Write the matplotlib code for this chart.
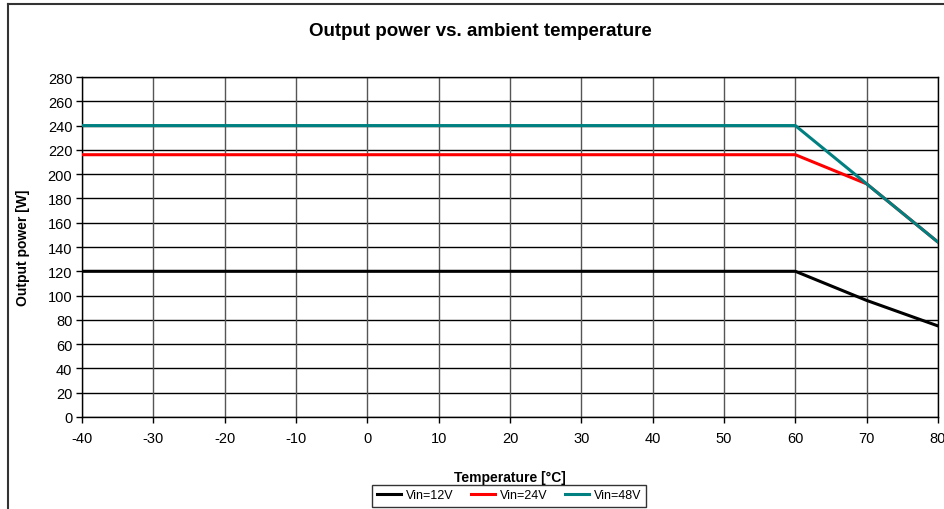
import numpy as np
import matplotlib
matplotlib.use("Agg")
from matplotlib import pyplot as plt
from matplotlib.lines import Line2D

plt.rcParams['font.family'] = ['Liberation Sans', 'DejaVu Sans']
plt.rcParams['axes.unicode_minus'] = False

# data
temp = [-40, 60, 70, 80]
p_12v = [120, 120, 96, 75]
p_24v = [216, 216, 192, 144]
p_48v = [240, 240, 192, 144]

x_ticks = list(range(-40, 81, 10))
y_ticks = list(range(0, 281, 20))

colors = {
    "Vin=12V": "black",
    "Vin=24V": "red",
    "Vin=48V": "#008080"
}

fig = plt.figure(figsize=(9.44, 5.10), dpi=100)
ax = fig.add_axes([82/944, 92/510, 856/944, 340/510])

for label, vals in [("Vin=12V", p_12v), ("Vin=24V", p_24v), ("Vin=48V", p_48v)]:
    ax.plot(temp, vals, color=colors[label], linewidth=2.2, label=label,
            solid_joinstyle='miter', zorder=3)

ax.set_xlim(-40, 80)
ax.set_ylim(0, 280)
ax.set_xticks(x_ticks)
ax.set_yticks(y_ticks)
ax.tick_params(axis='both', direction='out', length=4, width=1, labelsize=10.5, pad=3)
ax.tick_params(axis='x', pad=6)

# excel-like grid: horizontal black, vertical grey
for y in y_ticks:
    ax.axhline(y, color='black', linewidth=1, zorder=1)
for x in x_ticks:
    ax.axvline(x, color='#555555', linewidth=1, zorder=1)
for sp in ax.spines.values():
    sp.set_color('black')
    sp.set_linewidth(1)

ax.set_xlabel("Temperature [°C]", fontsize=10, fontweight='bold', labelpad=18)
ax.set_ylabel("Output power [W]", fontsize=10, fontweight='bold', labelpad=13)
fig.text(480/944, 1 - 31/510, "Output power vs. ambient temperature",
         ha='center', va='center', fontsize=13.5, fontweight='bold')

leg = fig.legend(handles=[Line2D([], [], color=colors[k], linewidth=2.2) for k in colors],
                 labels=list(colors.keys()), loc='center', ncol=3,
                 bbox_to_anchor=(509/944, 1 - 496.5/510), fontsize=9,
                 frameon=True, fancybox=False, edgecolor='black',
                 handlelength=1.9, columnspacing=1.4, handletextpad=0.4,
                 borderpad=0.4)
leg.get_frame().set_linewidth(1)

# outer chart border (cut off at the right and bottom)
fig.add_artist(Line2D([8/944, 8/944], [0, 1 - 5/510], color='#333333', linewidth=1.5,
                      transform=fig.transFigure))
fig.add_artist(Line2D([8/944, 1], [1 - 5/510, 1 - 5/510], color='#333333', linewidth=1.5,
                      transform=fig.transFigure))

fig.savefig("out.png", dpi=100)
